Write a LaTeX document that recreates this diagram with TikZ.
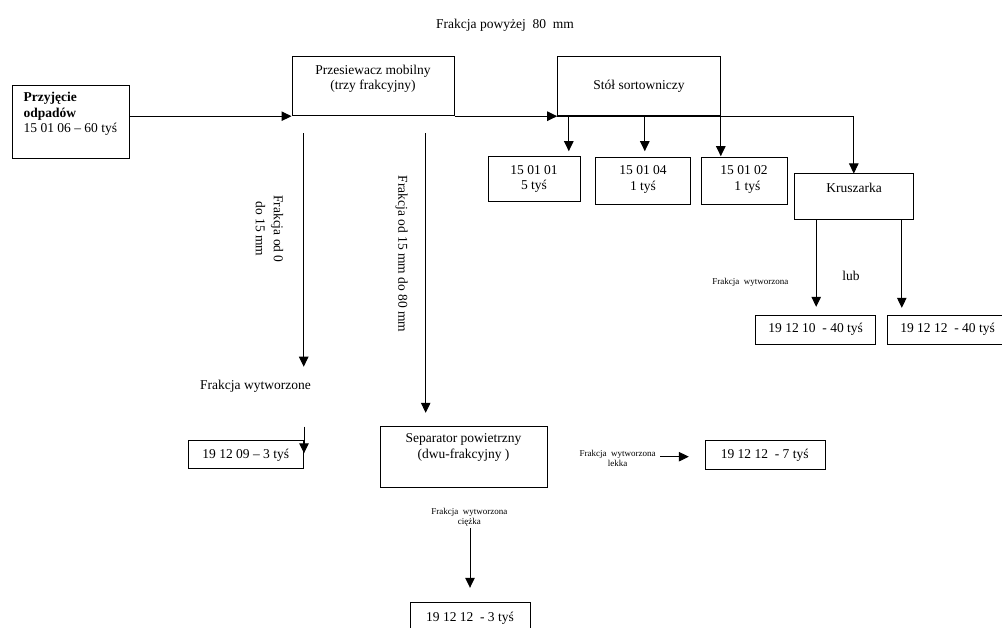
\documentclass[tikz,border=0pt]{standalone}
\usepackage{fontspec}
\setmainfont{Liberation Serif}
\usetikzlibrary{arrows.meta,calc}
\begin{document}
\begin{tikzpicture}[x=1pt,y=-1pt,
  every node/.style={font=\fontsize{13.5}{15.5}\selectfont},
  box/.style={draw, line width=1pt, inner sep=0pt},
  lbl/.style={inner sep=0pt, align=center},
  small/.style={inner sep=0pt, align=center, font=\fontsize{9}{10.4}\selectfont},
  arr/.style={line width=1pt, -{Triangle[length=10pt,width=9.5pt]}}]
\useasboundingbox (0,0) rectangle (1002,628);
\fill[white] (0,0) rectangle (1002,628);

% process boxes
\node[box, minimum width=117.7pt, minimum height=73.4pt] (in)      at (70.85,122) {};
\node[box, minimum width=162pt,   minimum height=59pt]   (sieve)   at (373,86.2) {};
\node[box, minimum width=162.6pt, minimum height=59pt]   (table)   at (639,86.2) {};
\node[box, minimum width=92.3pt,  minimum height=45.3pt] (b1)      at (534.15,179.35) {};
\node[box, minimum width=95.4pt,  minimum height=47.3pt] (b4)      at (643,181.35) {};
\node[box, minimum width=86.7pt,  minimum height=47.3pt] (b2)      at (744.35,181.35) {};
\node[box, minimum width=119pt,   minimum height=45.3pt] (crusher) at (853.8,196.65) {};
\node[box, minimum width=120pt,   minimum height=28.6pt] (r10)     at (815.7,330) {};
\node[box, minimum width=117.7pt, minimum height=28.6pt] (r12a)    at (946.15,330) {};
\node[box, minimum width=115pt,   minimum height=27.6pt] (r09)     at (245.8,454.5) {};
\node[box, minimum width=167.7pt, minimum height=61.7pt] (sep)     at (463.85,456.85) {};
\node[box, minimum width=119.3pt, minimum height=28.6pt] (r7)      at (765.35,455) {};
\node[box, minimum width=120pt,   minimum height=42.3pt] (r3)      at (470,623.85) {};

% box texts
\node[lbl, anchor=west, align=left] (intxt) at (23.5,114) {\textbf{Przyjęcie}\\\textbf{odpadów}\\15 01 06 – 60 tyś};
\node[lbl] (sievetxt) at (373,79) {Przesiewacz mobilny\\(trzy frakcyjny)};
\node[lbl] (tabletxt) at (639,86) {Stół sortowniczy};
\node[lbl] (b1txt) at (534,179) {15 01 01\\5 tyś};
\node[lbl] (b4txt) at (643,179.5) {15 01 04\\1 tyś};
\node[lbl] (b2txt) at (744,179.5) {15 01 02\\\ \ 1 tyś};
\node[lbl] (crushertxt) at (854,188.3) {Kruszarka};
\node[lbl] (r10txt) at (815.7,329.3) {19 12 10\ \ - 40 tyś};
\node[lbl] (r12atxt) at (947.5,329.3) {19 12 12\ \ - 40 tyś};
\node[lbl] (r09txt) at (245.8,455) {19 12 09 – 3 tyś};
\node[lbl] (septxt) at (463.5,447.5) {Separator powietrzny\\(dwu-frakcyjny )};
\node[lbl] (r7txt) at (764.7,455.7) {19 12 12\ \ - 7 tyś};
\node[lbl] (r3txt) at (470,618.3) {19 12 12\ \ - 3 tyś};

% free labels
\node[lbl] (top) at (505,25.7) {Frakcja powyżej\ \ 80\ \ mm};
\node[lbl] (lub) at (851,276) {lub};
\node[small] (kfrac) at (750.3,282) {Frakcja\ \ wytworzona};
\node[small] (heavy) at (469.3,517.5) {Frakcja\ \ wytworzona\\ciężka};
\node[small] (light) at (617.5,458.3) {Frakcja\ \ wytworzona\\lekka};
\node[lbl, rotate=-90, font=\fontsize{13.5}{18}\selectfont] (rot1) at (269.5,229) {Frakcja od 0\\do 15 mm};
\node[lbl, rotate=-90] (rot2) at (401.7,254) {Frakcja od 15 mm do 80 mm};
\node[lbl] (fw) at (255.5,386.7) {Frakcja wytworzone};

% main line and sorting table outlets
\draw[arr] (in.east |- sieve.south) -- (sieve.south west);
\draw[arr] (sieve.south east) -- (table.south west);
\draw[arr] (table.south west) -| (crusher.north);
\coordinate (t1) at ($(table.south west)+(11.6,0)$);
\coordinate (t2) at ($(table.south west)+(87.6,0)$);
\draw[arr, shorten >=5pt] (t1) -- (t1 |- b1.north);
\draw[arr, shorten >=6pt] (t2) -- (t2 |- b4.north);
\draw[arr, shorten >=1pt] (table.south east) -- (table.south east |- b2.north);

% crusher outlets
\coordinate (k1) at ($(crusher.south west)+(22.4,0)$);
\coordinate (k2) at ($(crusher.south west)+(108,0)$);
\draw[arr, shorten >=8.4pt] (k1) -- (k1 |- r10.north);
\draw[arr, shorten >=7.4pt] (k2) -- (k2 |- r12a.north);

% screen fractions
\coordinate (f1s) at (303.7,133.3);
\coordinate (f1e) at (303.7,366.7);
\draw[arr] (f1s) -- (f1e);
\coordinate (f2s) at (425.7,133.3);
\draw[arr, shorten >=12.7pt] (f2s) -- (f2s |- sep.north);
\coordinate (f3s) at (304,426.7);
\coordinate (f3e) at (304,453.3);
\draw[arr] (f3s) -- (f3e);

% separator outputs
\coordinate (hs) at (470,528.3);
\draw[arr, shorten >=14.4pt] (hs) -- (hs |- r3.north);
\coordinate (ls) at (660,456.7);
\draw[arr, shorten >=16.4pt] (ls) -- (ls -| r7.west);
\end{tikzpicture}
\end{document}
